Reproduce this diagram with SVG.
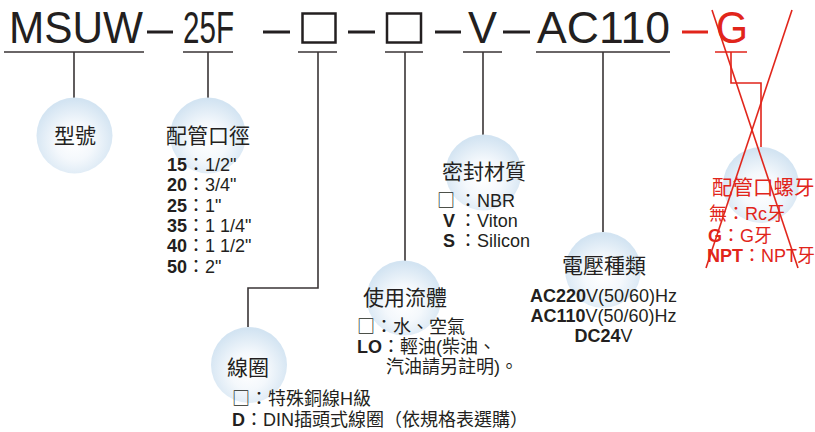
<svg xmlns="http://www.w3.org/2000/svg" width="815" height="432" viewBox="0 0 815 432">
<defs>
<radialGradient id="bub" cx="50%" cy="58%" r="55%">
<stop offset="0" stop-color="#ffffff"/>
<stop offset="0.45" stop-color="#f4f8fc"/>
<stop offset="1" stop-color="#d3e4f2"/>
</radialGradient>
<style>
.t{font-family:"Liberation Sans","Noto Sans CJK TC",sans-serif;fill:#231f20}
.cjk{font-family:"Noto Sans CJK TC",sans-serif}
.title{font-size:44px}
.h{font-size:21px}
.s{font-size:18px}
.v{font-size:18px}
.b{font-weight:bold}
.red{fill:#e1251b}
.bub{fill:url(#bub)}
.ln{stroke:#3a3536;stroke-width:1.6;fill:none}
.rl{stroke:#e1251b;stroke-width:1.6;fill:none}
.dash{fill:#231f20}
</style>
</defs>
<rect width="815" height="432" fill="#ffffff"/>

<g id="title">
<text class="t title" x="9" y="43" textLength="134" lengthAdjust="spacingAndGlyphs">MSUW</text>
<rect class="dash" x="147" y="30.5" width="26" height="3"/>
<text class="t title" x="183" y="43" textLength="51" lengthAdjust="spacingAndGlyphs">25F</text>
<rect class="dash" x="263" y="30.5" width="27" height="3"/>
<rect x="302.5" y="13.5" width="33" height="29" fill="none" stroke="#231f20" stroke-width="2.5"/>
<rect class="dash" x="348" y="30.5" width="27" height="3"/>
<rect x="387" y="13.5" width="34" height="29" fill="none" stroke="#231f20" stroke-width="2.5"/>
<rect class="dash" x="435" y="30.5" width="26" height="3"/>
<text class="t title" x="468" y="43" textLength="29" lengthAdjust="spacingAndGlyphs">V</text>
<rect class="dash" x="503" y="30.5" width="27" height="3"/>
<text class="t title" x="537" y="43" textLength="133" lengthAdjust="spacingAndGlyphs">AC110</text>
<rect x="682" y="30.5" width="26" height="3" fill="#e1251b"/>
<text class="t title red" x="716" y="43" textLength="32" lengthAdjust="spacingAndGlyphs">G</text>
</g>

<g id="connectors">
<path class="ln" d="M4 52H144M74 52V98"/>
<path class="ln" d="M183 52H233M208 52V98"/>
<path class="ln" d="M298 52H337M318 52V288H248V327"/>
<path class="ln" d="M385 52H423M405 52V261"/>
<path class="ln" d="M463 52H502M483 52V135"/>
<path class="ln" d="M536 52H670M603 52V232"/>
<path class="rl" d="M715 52H747M731 52V83H761V147"/>
</g>

<g id="node-model">
<circle class="bub" cx="74.5" cy="135.5" r="38"/>
<text class="t h" x="54" y="143">型號</text>
</g>

<g id="node-port">
<circle class="bub" cx="208" cy="135.5" r="38"/>
<text class="t h" x="166" y="143">配管口徑</text>
<text class="t s" x="167" y="171"><tspan class="b">15</tspan>：1/2"</text>
<text class="t s" x="167" y="191"><tspan class="b">20</tspan>：3/4"</text>
<text class="t s" x="167" y="212"><tspan class="b">25</tspan>：1"</text>
<text class="t s" x="167" y="232"><tspan class="b">35</tspan>：1 1/4"</text>
<text class="t s" x="167" y="252"><tspan class="b">40</tspan>：1 1/2"</text>
<text class="t s" x="167" y="273"><tspan class="b">50</tspan>：2"</text>
</g>

<g id="node-seal">
<circle class="bub" cx="483.5" cy="172.5" r="38"/>
<text class="t h" x="442" y="179">密封材質</text>
<text class="t s"><tspan class="cjk" x="437" y="207">□</tspan><tspan x="459" y="207">：</tspan><tspan x="477" y="207">NBR</tspan></text>
<text class="t s"><tspan class="b" x="455" y="227" text-anchor="end">V</tspan><tspan x="459" y="227">：</tspan><tspan x="477" y="227">Viton</tspan></text>
<text class="t s"><tspan class="b" x="455" y="247" text-anchor="end">S</tspan><tspan x="459" y="247">：</tspan><tspan x="477" y="247">Silicon</tspan></text>
</g>

<g id="node-fluid">
<circle class="bub" cx="404" cy="298" r="37.5"/>
<text class="t h" x="363" y="305">使用流體</text>
<text class="t s" x="357" y="333"><tspan class="cjk">□</tspan>：水、空氣</text>
<text class="t s" x="357" y="353"><tspan class="b">LO</tspan>：輕油(柴油、</text>
<text class="t s" x="386" y="373">汽油請另註明)。</text>
</g>

<g id="node-coil">
<circle class="bub" cx="249" cy="365" r="38"/>
<text class="t h" x="227" y="375">線圈</text>
<text class="t s" x="232" y="405"><tspan class="cjk">□</tspan>：特殊銅線H級</text>
<text class="t s" x="232" y="426"><tspan class="b">D</tspan>：DIN插頭式線圈（依規格表選購）</text>
</g>

<g id="node-voltage">
<circle class="bub" cx="603" cy="270" r="38"/>
<text class="t h" x="562" y="273">電壓種類</text>
<text class="t v" x="603.5" y="302" text-anchor="middle"><tspan class="b">AC220</tspan>V(50/60)Hz</text>
<text class="t v" x="603.5" y="322" text-anchor="middle"><tspan class="b">AC110</tspan>V(50/60)Hz</text>
<text class="t v" x="603.5" y="342" text-anchor="middle"><tspan class="b">DC24</tspan>V</text>
</g>

<g id="node-thread">
<circle class="bub" cx="761" cy="185" r="38"/>
<text class="t h red" x="712" y="195" style="font-size:20.5px">配管口螺牙</text>
<text class="t s red" x="709" y="220">無：Rc牙</text>
<text class="t s red" x="708" y="242"><tspan class="b">G</tspan>：G牙</text>
<text class="t s red" x="707" y="262"><tspan class="b">NPT</tspan>：NPT牙</text>
</g>

<g id="crossout">
<line class="rl" x1="712" y1="10" x2="798" y2="268"/>
<line class="rl" x1="792" y1="10" x2="706" y2="268"/>
</g>
</svg>
